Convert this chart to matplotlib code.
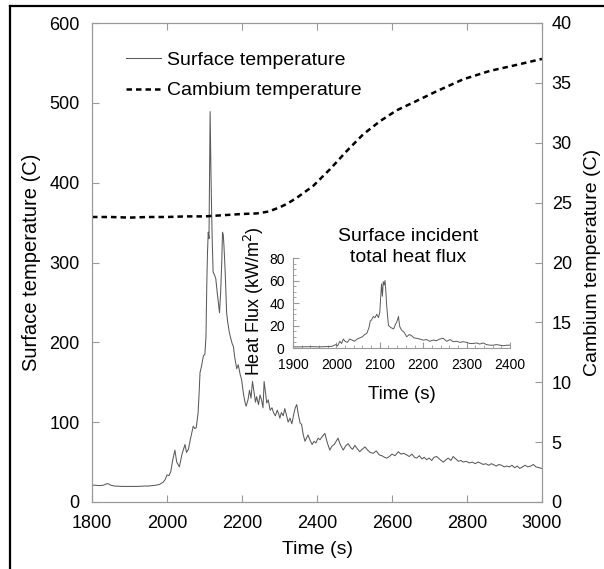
import matplotlib
matplotlib.use('Agg')
import matplotlib.pyplot as plt
from matplotlib.lines import Line2D
from matplotlib.ticker import MultipleLocator

plt.rcParams['font.family'] = ['Liberation Sans', 'DejaVu Sans']

# surface temperature (C) vs time (s)
surf_time = [1800, 1810, 1820, 1830, 1840, 1845, 1850, 1860, 1880, 1900,
             1920, 1940, 1950, 1960, 1970, 1980, 1990, 1995, 2000, 2005,
             2010, 2015, 2021, 2026, 2033, 2040, 2048, 2052, 2057, 2063,
             2070, 2074, 2078, 2083, 2086, 2088, 2092, 2097, 2101, 2104,
             2106, 2108, 2110, 2112, 2115, 2117, 2119, 2121, 2123, 2126,
             2130, 2134, 2137, 2140, 2143, 2146, 2148, 2150, 2152, 2155,
             2159, 2162, 2166, 2170, 2174, 2177, 2181, 2186, 2190, 2195,
             2199, 2204, 2208, 2211, 2216, 2220, 2224, 2228, 2232, 2236,
             2239, 2244, 2248, 2252, 2256, 2259, 2263, 2266, 2270, 2275,
             2280, 2284, 2289, 2294, 2298, 2301, 2305, 2310, 2314, 2318,
             2323, 2328, 2333, 2338, 2342, 2346, 2350, 2355, 2359, 2363,
             2368, 2372, 2376, 2381, 2387, 2392, 2397, 2403, 2408, 2414,
             2421, 2427, 2434, 2440, 2446, 2451, 2456, 2462, 2470, 2476,
             2483, 2490, 2495, 2501, 2507, 2514, 2520, 2528, 2535, 2542,
             2550, 2558, 2566, 2573, 2580, 2586, 2593, 2600, 2608, 2617,
             2624, 2631, 2639, 2646, 2653, 2660, 2666, 2673, 2680, 2686,
             2692, 2699, 2706, 2712, 2719, 2726, 2731, 2737, 2744, 2750,
             2757, 2763, 2770, 2777, 2784, 2790, 2798, 2806, 2814, 2822,
             2829, 2835, 2843, 2850, 2858, 2865, 2870, 2878, 2885, 2892,
             2899, 2906, 2913, 2920, 2927, 2934, 2941, 2948, 2955, 2962,
             2970, 2977, 2984, 2991, 3000]
surf_temp = [21, 21, 20.5, 21, 23, 22.5, 21, 20, 19.5, 19.5,
             19.5, 20, 20, 20.5, 21, 22, 25, 28, 34, 33,
             38, 52, 65, 50, 44, 60, 72, 62, 66, 80,
             95, 92, 93, 112, 140, 162, 170, 183, 185, 208,
             270, 313, 338, 330, 489, 420, 363, 320, 288, 285,
             280, 262, 250, 237, 262, 300, 338, 335, 320, 290,
             237, 225, 213, 205, 198, 195, 180, 167, 172, 160,
             153, 135, 125, 120, 128, 140, 130, 151, 138, 125,
             132, 122, 134, 128, 118, 151, 135, 124, 128, 115,
             118, 112, 108, 115, 110, 105, 112, 108, 117, 110,
             100, 105, 98, 110, 118, 122, 110, 99, 97, 85,
             76, 80, 84, 78, 72, 76, 74, 80, 78, 82,
             86, 75, 65, 70, 72, 76, 80, 72, 65, 70,
             73, 68, 66, 71, 67, 63, 66, 69, 65, 62,
             61, 64, 59, 58, 56, 55, 57, 60, 58, 63,
             60, 61, 59, 57, 60, 56, 55, 58, 54, 56,
             53, 55, 52, 56, 57, 54, 52, 50, 53, 55,
             52, 57, 54, 51, 52, 50, 51, 49, 50, 48,
             50, 49, 47, 48, 46, 48, 47, 45, 47, 46,
             44, 45, 44, 46, 43, 45, 42, 44, 46, 44,
             45, 47, 44, 43, 42]

# cambium temperature (C)
camb_time = [1800, 1850, 1900, 1950, 2000, 2050, 2100, 2150, 2200, 2240,
             2270, 2300, 2320, 2346, 2390, 2435, 2479, 2523, 2568, 2612,
             2666, 2719, 2790, 2861, 2932, 3000]
camb_temp = [23.8, 23.8, 23.75, 23.8, 23.8, 23.85, 23.85, 23.95, 24.05, 24.1,
             24.25, 24.6, 24.9, 25.4, 26.4, 27.8, 29.3, 30.7, 31.8, 32.7,
             33.5, 34.3, 35.3, 36.0, 36.5, 37.0]

# inset: incident heat flux (kW/m2)
flux_time = [1900, 1920, 1940, 1960, 1980, 1990, 1998, 2003, 2008, 2012,
             2016, 2020, 2025, 2031, 2036, 2042, 2048, 2054, 2060, 2065,
             2070, 2075, 2078, 2081, 2085, 2089, 2093, 2097, 2100, 2102,
             2104, 2106, 2108, 2110, 2112, 2114, 2116, 2118, 2120, 2126,
             2132, 2136, 2139, 2143, 2146, 2150, 2156, 2162, 2168, 2173,
             2179, 2185, 2192, 2200, 2208, 2215, 2223, 2231, 2238, 2246,
             2254, 2262, 2269, 2277, 2285, 2292, 2300, 2308, 2315, 2323,
             2330, 2338, 2346, 2354, 2361, 2369, 2377, 2385, 2392, 2400]
flux_val = [1, 1, 1.2, 1, 1.3, 1.5, 3, 2, 6, 4,
            8, 6, 5, 8, 7, 6, 8, 9, 10, 12,
            13, 18, 24, 25, 28, 27, 30, 27, 32, 45,
            57, 46, 59, 56, 60, 50, 37, 28, 20, 18,
            17, 21, 23, 28, 19, 16, 14, 10, 12, 11,
            9, 8.6, 8, 7, 7.5, 6, 7, 6.5, 8, 8.6,
            6, 7.5, 5.6, 6, 5, 5.6, 5, 4, 4, 4.5,
            3.5, 4.5, 3, 2.5, 2.5, 3, 2.5, 2, 2.5, 2.5]

W, H = 604, 569
gray = '#999999'

fig = plt.figure(figsize=(W / 100, H / 100), dpi=100)
ax = fig.add_axes([92 / W, 1 - 502 / H, 450 / W, 479 / H])
ax2 = ax.twinx()

l1, = ax.plot(surf_time, surf_temp, color='#5a5a5a', lw=0.75)
l2, = ax2.plot(camb_time, camb_temp, color='black', lw=1.8,
               linestyle=(0, (2.2, 1.6)))

ax.set_xlim(1800, 3000)
ax.set_ylim(0, 600)
ax2.set_ylim(0, 40)
ax.set_xticks(range(1800, 3001, 200))
ax.set_yticks(range(0, 601, 100))
ax2.set_yticks(range(0, 41, 5))

for a in (ax, ax2):
    for s in a.spines.values():
        s.set_color(gray)
        s.set_linewidth(0.8)
ax.tick_params(direction='in', length=5, color=gray, labelsize=13,
               top=True, right=False, pad=9)
ax2.tick_params(direction='in', length=5, color=gray, labelsize=13, pad=7)

ax.set_xlabel('Time (s)', fontsize=14)
ax.xaxis.set_label_coords(0.5, -0.082)
ax.set_ylabel('Surface temperature (C)', fontsize=14.5)
ax.yaxis.set_label_coords(-0.113, 0.5)
ax2.set_ylabel('Cambium temperature (C)', fontsize=14)
ax2.yaxis.set_label_coords(1.093, 0.5)

ax2.legend([l1, l2], ['Surface temperature', 'Cambium temperature'],
           loc='upper left', bbox_to_anchor=((126 - 92) / 450, (502 - 51) / 479),
           frameon=False, borderpad=0, borderaxespad=0, handlelength=1.8,
           handletextpad=0.3, labelspacing=0.68, fontsize=14)

# inset
axi = fig.add_axes([293 / W, 1 - 348 / H, 217 / W, 90 / H], zorder=5)
axi.patch.set_visible(False)
axi.plot(flux_time, flux_val, color='#5a5a5a', lw=0.7)
axi.set_xlim(1900, 2400)
axi.set_ylim(0, 80)
axi.set_xticks(range(1900, 2401, 100))
axi.set_yticks(range(0, 81, 20))
axi.xaxis.set_minor_locator(MultipleLocator(20))
axi.yaxis.set_minor_locator(MultipleLocator(5))
axi.spines['top'].set_visible(False)
axi.spines['right'].set_visible(False)
for s in ('left', 'bottom'):
    axi.spines[s].set_color(gray)
    axi.spines[s].set_linewidth(0.8)
axi.tick_params(which='both', direction='in', color=gray, labelsize=10)
axi.tick_params(axis='x', pad=7)
axi.tick_params(axis='y', pad=6)
axi.tick_params(which='major', length=4)
axi.tick_params(which='minor', length=2.5)
axi.set_xlabel('Time (s)', fontsize=13.5)
axi.xaxis.set_label_coords(0.5, -0.42)
axi.set_ylabel('Heat Flux (kW/m$^2$)', fontsize=13)
axi.yaxis.set_label_coords(-0.125, 0.52)
axi.text(0.53, 1.12, 'Surface incident\ntotal heat flux', transform=axi.transAxes,
         ha='center', va='center', fontsize=14, linespacing=1.3)

# figure frame (left and top edges)
fig.add_artist(Line2D([10 / W, 10 / W], [0, 1 - 6 / H], color='black', lw=1.6,
                      transform=fig.transFigure))
fig.add_artist(Line2D([10 / W, 1], [1 - 6 / H, 1 - 6 / H], color='black', lw=1.6,
                      transform=fig.transFigure))

fig.savefig('out.png', dpi=100)
